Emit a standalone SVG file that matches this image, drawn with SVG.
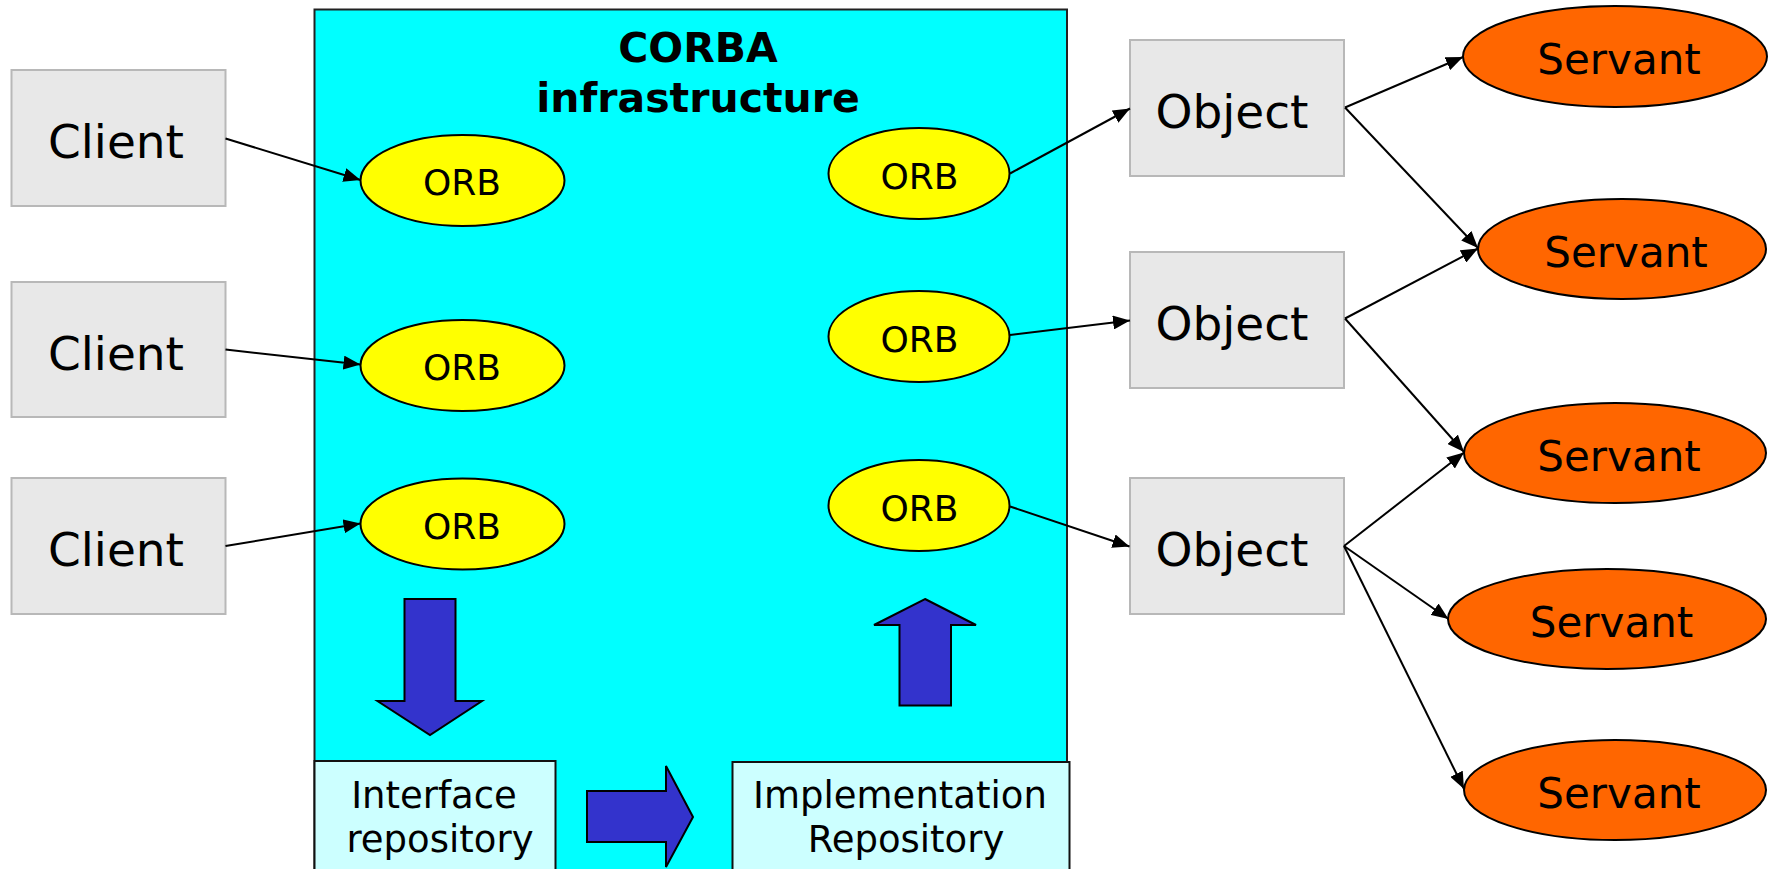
<svg xmlns="http://www.w3.org/2000/svg" width="1768" height="869" viewBox="0 0 1768 869">
  <style>
    .box { fill: #e8e8e8; stroke: #b8b8b8; stroke-width: 2; }
    .big { font-family: "DejaVu Sans", Verdana, sans-serif; font-size: 47px; fill: #000; text-anchor: middle; }
    .orb { fill: #ffff00; stroke: #000; stroke-width: 2; }
    .orbt { font-family: "DejaVu Sans", Verdana, sans-serif; font-size: 36px; fill: #000; text-anchor: middle; }
    .srv { fill: #ff6600; stroke: #000; stroke-width: 2; }
    .srvt { font-family: "DejaVu Sans", Verdana, sans-serif; font-size: 42px; fill: #000; text-anchor: middle; }
    .repo { fill: #ccffff; stroke: #111; stroke-width: 2; }
    .repot { font-family: "DejaVu Sans", Verdana, sans-serif; font-size: 37px; fill: #000; text-anchor: middle; }
    .title { font-family: "DejaVu Sans", Verdana, sans-serif; font-size: 41px; font-weight: bold; fill: #000; text-anchor: middle; }
    .flow { fill: #3333cc; stroke: #000; stroke-width: 2; stroke-linejoin: miter; }
    .conn line { stroke: #000; stroke-width: 2; marker-end: url(#arrow); }
  </style>
  <defs>
    <marker id="arrow" markerUnits="userSpaceOnUse" markerWidth="18" markerHeight="14" refX="17" refY="7" orient="auto">
      <path d="M0,0 L17,7 L0,14 z" fill="#000"/>
    </marker>
  </defs>

  <rect width="1768" height="869" fill="#fff"/>

  <!-- CORBA infrastructure container -->
  <g id="corba">
    <rect x="314.5" y="9.5" width="752.5" height="870" fill="#00ffff" stroke="#222" stroke-width="2"/>
    <text class="title" x="698" y="62">CORBA</text>
    <text class="title" x="698" y="112">infrastructure</text>
  </g>

  <!-- repositories -->
  <g id="interface-repository">
    <rect class="repo" x="314.5" y="761" width="241" height="120"/>
    <text class="repot" x="434" y="808">Interface</text>
    <text class="repot" x="440" y="852">repository</text>
  </g>
  <g id="implementation-repository">
    <rect class="repo" x="732.5" y="762" width="337" height="120"/>
    <text class="repot" x="900" y="808">Implementation</text>
    <text class="repot" x="906" y="852">Repository</text>
  </g>

  <!-- flow arrows between ORBs and repositories -->
  <g id="flow-arrows">
    <polygon class="flow" points="404.5,599 455.5,599 455.5,701 482,701 430,735 377.5,701 404.5,701"/>
    <polygon class="flow" points="587,791 666,791 666,766 693,817 666,867 666,842 587,842"/>
    <polygon class="flow" points="925,599 976,625 951,625 951,705.5 899.5,705.5 899.5,625 874,625"/>
  </g>

  <!-- clients -->
  <g id="client1">
    <rect class="box" x="11.5" y="70" width="214" height="136"/>
    <text class="big" x="116" y="158">Client</text>
  </g>
  <g id="client2">
    <rect class="box" x="11.5" y="282" width="214" height="135"/>
    <text class="big" x="116" y="370">Client</text>
  </g>
  <g id="client3">
    <rect class="box" x="11.5" y="478" width="214" height="136"/>
    <text class="big" x="116" y="566">Client</text>
  </g>

  <!-- client-side ORBs -->
  <g id="orb-client1">
    <ellipse class="orb" cx="462.5" cy="180.5" rx="102" ry="45.5"/>
    <text class="orbt" x="462" y="195">ORB</text>
  </g>
  <g id="orb-client2">
    <ellipse class="orb" cx="462.5" cy="365.5" rx="102" ry="45.5"/>
    <text class="orbt" x="462" y="380">ORB</text>
  </g>
  <g id="orb-client3">
    <ellipse class="orb" cx="462.5" cy="524" rx="102" ry="45.5"/>
    <text class="orbt" x="462" y="538.5">ORB</text>
  </g>

  <!-- server-side ORBs -->
  <g id="orb-server1">
    <ellipse class="orb" cx="919" cy="173.5" rx="90.5" ry="45.5"/>
    <text class="orbt" x="919.5" y="188.5">ORB</text>
  </g>
  <g id="orb-server2">
    <ellipse class="orb" cx="919" cy="336.5" rx="90.5" ry="45.5"/>
    <text class="orbt" x="919.5" y="351.5">ORB</text>
  </g>
  <g id="orb-server3">
    <ellipse class="orb" cx="919" cy="505.5" rx="90.5" ry="45.5"/>
    <text class="orbt" x="919.5" y="520.5">ORB</text>
  </g>

  <!-- objects -->
  <g id="object1">
    <rect class="box" x="1130" y="40" width="214" height="136"/>
    <text class="big" x="1232" y="128">Object</text>
  </g>
  <g id="object2">
    <rect class="box" x="1130" y="252" width="214" height="136"/>
    <text class="big" x="1232" y="340">Object</text>
  </g>
  <g id="object3">
    <rect class="box" x="1130" y="478" width="214" height="136"/>
    <text class="big" x="1232" y="566">Object</text>
  </g>

  <!-- servants -->
  <g id="servant1">
    <ellipse class="srv" cx="1615" cy="56.5" rx="152" ry="50.5"/>
    <text class="srvt" x="1619" y="74">Servant</text>
  </g>
  <g id="servant2">
    <ellipse class="srv" cx="1622" cy="249" rx="144" ry="50"/>
    <text class="srvt" x="1626" y="266.5">Servant</text>
  </g>
  <g id="servant3">
    <ellipse class="srv" cx="1615" cy="453" rx="151" ry="50"/>
    <text class="srvt" x="1619" y="470.5">Servant</text>
  </g>
  <g id="servant4">
    <ellipse class="srv" cx="1607" cy="619" rx="159" ry="50"/>
    <text class="srvt" x="1611.5" y="636.5">Servant</text>
  </g>
  <g id="servant5">
    <ellipse class="srv" cx="1615" cy="790" rx="151" ry="50"/>
    <text class="srvt" x="1619" y="807.5">Servant</text>
  </g>

  <!-- connectors -->
  <g id="connectors" class="conn">
    <line x1="225.5" y1="138.5" x2="360.5" y2="180"/>
    <line x1="225.5" y1="349.5" x2="360.5" y2="364.5"/>
    <line x1="225.5" y1="546" x2="360.5" y2="523.5"/>
    <line x1="1010" y1="173.5" x2="1130" y2="108.5"/>
    <line x1="1010" y1="335" x2="1130" y2="320.5"/>
    <line x1="1010" y1="506.5" x2="1129.5" y2="546.5"/>
    <line x1="1345" y1="107.5" x2="1463" y2="57"/>
    <line x1="1345" y1="107.5" x2="1478" y2="248"/>
    <line x1="1345" y1="318.5" x2="1478" y2="248.5"/>
    <line x1="1345" y1="318.5" x2="1464" y2="452"/>
    <line x1="1344" y1="546" x2="1464" y2="452.5"/>
    <line x1="1344" y1="546" x2="1448.5" y2="619"/>
    <line x1="1344" y1="546" x2="1464" y2="789"/>
  </g>
</svg>
